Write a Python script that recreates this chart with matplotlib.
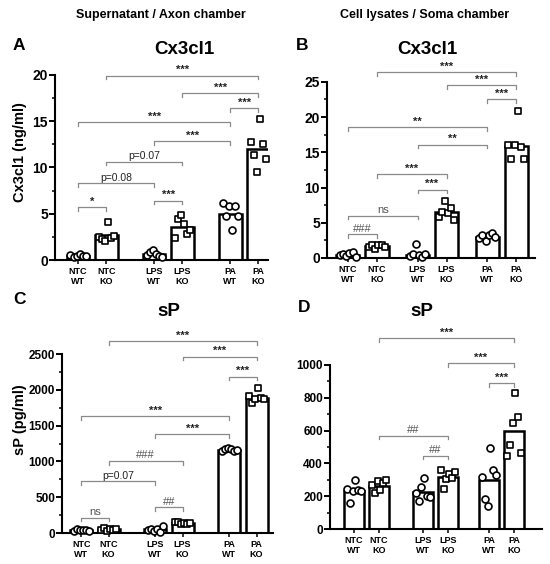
import numpy as np
import matplotlib
matplotlib.use('Agg')
import matplotlib.pyplot as plt
from matplotlib.ticker import FixedLocator

plt.rcParams['font.family'] = ['Liberation Sans', 'DejaVu Sans']
plt.rcParams['font.weight'] = 'bold'

groups = ['NTC\nWT', 'NTC\nKO', 'LPS\nWT', 'LPS\nKO', 'PA\nWT', 'PA\nKO']

# panel A: Cx3cl1 (ng/ml), supernatant
a_bars = [0.45, 2.65, 0.6, 3.6, 4.95, 12.0]
a_points = [
    [0.5, 0.3, 0.4, 0.6, 0.4, 0.45],
    [2.5, 2.3, 2.1, 4.1, 2.4, 2.6],
    [0.5, 0.9, 1.1, 0.6, 0.4, 0.3],
    [2.4, 4.4, 4.9, 3.9, 2.8, 3.2],
    [6.2, 4.8, 5.8, 3.2, 5.8, 4.7],
    [12.7, 11.35, 9.55, 15.2, 12.5, 10.95],
]
a_sig = [(0, 1, 5.7, '*'), (0, 2, 8.3, 'p=0.08'), (1, 3, 10.6, 'p=0.07'),
         (2, 3, 6.4, '***'), (2, 4, 12.8, '***'), (0, 4, 14.9, '***'),
         (4, 5, 16.4, '***'), (3, 5, 18.0, '***'), (1, 5, 19.9, '***')]

# panel B: Cx3cl1, cell lysates
b_bars = [0.45, 1.7, 0.4, 6.5, 3.0, 15.9]
b_points = [
    [0.4, 0.6, 0.3, 0.7, 0.8, 0.1],
    [1.5, 1.9, 1.3, 1.9, 1.8, 1.6],
    [0.3, 0.5, 2.0, 0.4, 0.2, 0.5],
    [5.8, 6.5, 8.1, 6.4, 7.1, 5.4],
    [2.9, 3.2, 2.4, 3.3, 3.5, 3.0],
    [16.0, 14.1, 16.0, 20.8, 15.8, 14.1],
]
b_sig = [(0, 1, 3.4, '###'), (0, 2, 6.0, 'ns'), (2, 3, 9.7, '***'),
         (1, 3, 11.9, '***'), (2, 4, 16.1, '**'), (0, 4, 18.6, '**'),
         (4, 5, 22.5, '***'), (3, 5, 24.5, '***'), (1, 5, 26.4, '***')]

# panel C: sP (pg/ml), supernatant
c_bars = [40, 50, 50, 140, 1160, 1880]
c_points = [
    [30, 50, 45, 40, 35, 25],
    [40, 70, 30, 60, 45, 50],
    [40, 60, 30, 50, 20, 100],
    [150, 160, 130, 140, 120, 140],
    [1150, 1180, 1190, 1170, 1140, 1160],
    [1910, 1810, 1870, 2030, 1880, 1870],
]
c_sig = [(0, 1, 215, 'ns'), (2, 3, 364, '##'), (0, 2, 723, 'p=0.07'),
         (1, 3, 1007, '###'), (2, 4, 1376, '***'), (0, 4, 1632, '***'),
         (4, 5, 2183, '***'), (3, 5, 2463, '***'), (1, 5, 2682, '***')]

# panel D: sP, cell lysates
d_bars = [232, 265, 225, 316, 300, 595]
d_points = [
    [245, 160, 230, 300, 240, 230],
    [270, 220, 290, 235, 280, 300],
    [220, 170, 255, 310, 200, 195],
    [360, 245, 305, 335, 310, 350],
    [320, 185, 140, 495, 360, 330],
    [448, 515, 645, 828, 680, 462],
]
d_sig = [(2, 3, 448, '##'), (1, 3, 570, '##'), (4, 5, 888, '***'),
         (3, 5, 1010, '***'), (1, 5, 1162, '***')]

W, H = 550, 564
fig = plt.figure(figsize=(W / 100, H / 100), dpi=100)


def px_axes(left, right, top, bottom):
    return fig.add_axes([left / W, 1 - bottom / H, (right - left) / W, (bottom - top) / H])


def draw_panel(ax, xpos, bars, points, sig, ymax, ytop, ystep, xlim, tick_fs):
    xpos = np.array(xpos)
    ax.bar(xpos, bars, width=0.8, color='white', edgecolor='black', linewidth=1.8, zorder=2)
    spread = np.linspace(-0.27, 0.27, 6)
    for k, vals in enumerate(points):
        marker = 'o' if k % 2 == 0 else 's'
        ax.scatter(xpos[k] + spread, vals, s=25 if marker == 'o' else 21, marker=marker,
                   facecolor='white', edgecolor='black', linewidth=1.2, zorder=3, clip_on=False)
    tick = ytop * 0.018
    for i, j, y, label in sig:
        x1, x2 = xpos[i], xpos[j]
        ax.plot([x1, x1, x2, x2], [y - tick, y, y, y - tick], color='#8a8a8a', lw=0.9,
                zorder=1, clip_on=False)
        fs = 7.5 if label.startswith('p') else 8
        col = '#222222' if '*' in label or label.startswith('p') else '#555555'
        ax.annotate(label, (0.5 * (x1 + x2), y), xytext=(0, 0.3), textcoords='offset points',
                    ha='center', va='bottom', fontsize=fs,
                    fontweight='bold' if '*' in label else 'normal', color=col)
    ax.set_xlim(*xlim)
    ax.set_ylim(0, ytop)
    ax.spines['top'].set_visible(False)
    ax.spines['right'].set_visible(False)
    ax.spines['left'].set_bounds(0, ymax)
    ax.spines['left'].set_linewidth(1.5)
    ax.spines['bottom'].set_linewidth(1.5)
    ax.set_yticks(np.arange(0, ymax + ystep / 2, ystep))
    ax.yaxis.set_minor_locator(FixedLocator(np.arange(ystep / 2, ymax, ystep)))
    ax.tick_params(axis='y', which='major', length=4, width=1.4, labelsize=tick_fs, pad=1)
    ax.tick_params(axis='y', which='minor', length=2.5, width=1.1)
    ax.set_xticks(xpos)
    ax.set_xticklabels(groups, fontsize=6.5, fontweight='bold', linespacing=1.1)
    ax.tick_params(axis='x', length=3, width=1.1, pad=2)
    for lab in ax.get_yticklabels():
        lab.set_fontweight('bold')


ax_a = px_axes(55, 268, 60, 260)
draw_panel(ax_a, [0, 1, 2.7, 3.7, 5.4, 6.4], a_bars, a_points, a_sig,
           20, 21.6, 5, (-0.82, 6.74), 10)
ax_b = px_axes(327, 535, 60, 258)
draw_panel(ax_b, [0, 1, 2.4, 3.4, 4.8, 5.8], b_bars, b_points, b_sig,
           25, 28.1, 5, (-0.72, 6.45), 10)
ax_c = px_axes(62, 273, 322, 533)
draw_panel(ax_c, [0, 1, 2.7, 3.7, 5.4, 6.4], c_bars, c_points, c_sig,
           2500, 2947, 500, (-0.7, 7.0), 8.5)
ax_d = px_axes(330, 542, 322, 529)
draw_panel(ax_d, [0, 1, 2.75, 3.75, 5.4, 6.4], d_bars, d_points, d_sig,
           1000, 1262, 200, (-0.96, 7.52), 8.5)

# headers, letters, titles
fig.text(161 / W, 1 - 15 / H, 'Supernatant / Axon chamber', ha='center', va='center',
         fontsize=9, fontweight='bold')
fig.text(425 / W, 1 - 15 / H, 'Cell lysates / Soma chamber', ha='center', va='center',
         fontsize=9, fontweight='bold')
for txt, x, y in [('A', 19, 46), ('B', 302, 45), ('C', 19, 300), ('D', 304, 308)]:
    fig.text(x / W, 1 - y / H, txt, ha='center', va='center', fontsize=12.5, fontweight='bold')
for txt, x, y in [('Cx3cl1', 184, 50), ('Cx3cl1', 427, 50), ('sP', 169, 311), ('sP', 422, 312)]:
    fig.text(x / W, 1 - y / H, txt, ha='center', va='center', fontsize=13.5, fontweight='bold')
fig.text(20 / W, 1 - 152 / H, 'Cx3cl1 (ng/ml)', rotation=90, ha='center', va='center',
         fontsize=10.5, fontweight='bold')
fig.text(20 / W, 1 - 420 / H, 'sP (pg/ml)', rotation=90, ha='center', va='center',
         fontsize=10.5, fontweight='bold')

fig.savefig('out.png', dpi=100, facecolor='white')
